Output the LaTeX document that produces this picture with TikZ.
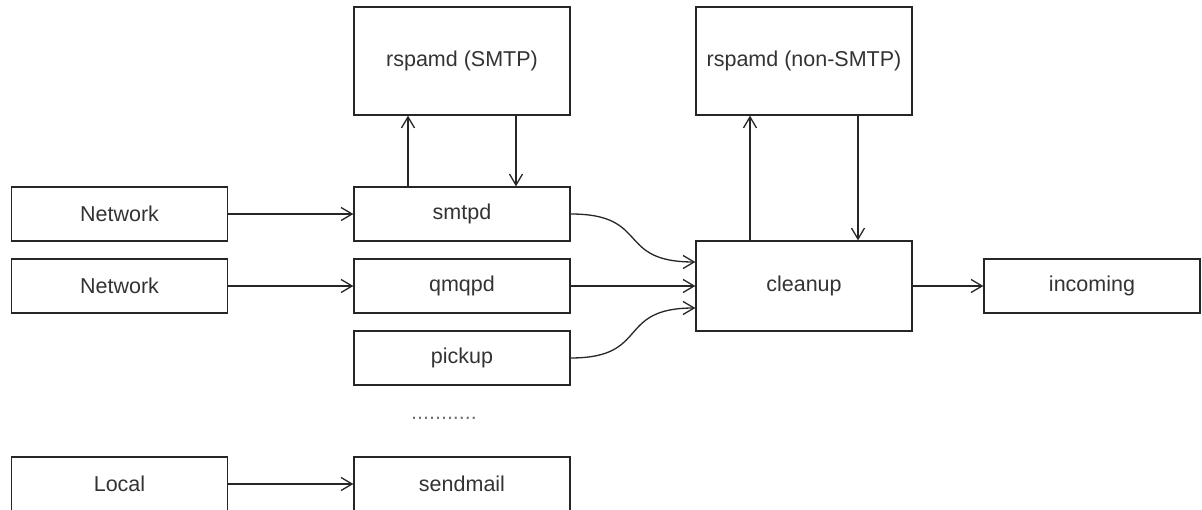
\documentclass[tikz,border=0pt]{standalone}
\usepackage{fontspec}
\setmainfont{Liberation Sans}
\usetikzlibrary{arrows.meta,calc}
\begin{document}
\begin{tikzpicture}[x=1pt,y=-1pt,
  box/.style={draw=black!85,line width=1.3pt,minimum width=216pt,minimum height=54pt,inner sep=0pt,
    font=\fontsize{21.5}{25}\selectfont,text=black!80},
  bigbox/.style={box,minimum height=108pt},
  midbox/.style={box,minimum height=90pt},
  arr/.style={draw=black!85,line width=1.3pt,-{Straight Barb[length=11pt,width=13pt,line width=1.3pt]}}]
\useasboundingbox (0,0) rectangle (1202,510);
\node[bigbox] (rs1) at (462,61) {rspamd (SMTP)};
\node[bigbox] (rs2) at (804,61) {rspamd (non-SMTP)};
\node[box] (net1) at (119.5,214) {Network};
\node[box] (net2) at (119.5,286) {Network};
\node[box] (smtpd) at (462,214) {smtpd};
\node[box] (qmqpd) at (462,286) {qmqpd};
\node[box] (pickup) at (462,358) {pickup};
\node[midbox] (cleanup) at (804,286) {cleanup};
\node[box] (incoming) at (1092,286) {incoming};
\node[box] (local) at (119.5,484) {Local};
\node[box] (sendmail) at (462,484) {sendmail};
\node[font=\fontsize{21.5}{25}\selectfont,text=black!55,inner sep=0pt,anchor=base] (dots) at (444,419) {...........};
\draw[arr] (net1) -- (smtpd);
\draw[arr] (net2) -- (qmqpd);
\draw[arr] (local) -- (sendmail);
\draw[arr] (qmqpd) -- (cleanup);
\draw[arr] (cleanup) -- (incoming);
\draw[arr] ([xshift=-54pt]smtpd.north) -- ([xshift=-54pt]rs1.south);
\draw[arr] ([xshift=54pt]rs1.south) -- ([xshift=54pt]smtpd.north);
\draw[arr] ([xshift=-54pt]cleanup.north) -- ([xshift=-54pt]rs2.south);
\draw[arr] ([xshift=54pt]rs2.south) -- ([xshift=54pt]cleanup.north);
\draw[arr] (smtpd.east) .. controls ($(smtpd.east)+(80,0)$) and ($(cleanup.west)+(-80,-24)$) .. ([yshift=24pt]cleanup.west);
\draw[arr] (pickup.east) .. controls ($(pickup.east)+(80,0)$) and ($(cleanup.west)+(-80,22)$) .. ([yshift=-22pt]cleanup.west);
\end{tikzpicture}
\end{document}
